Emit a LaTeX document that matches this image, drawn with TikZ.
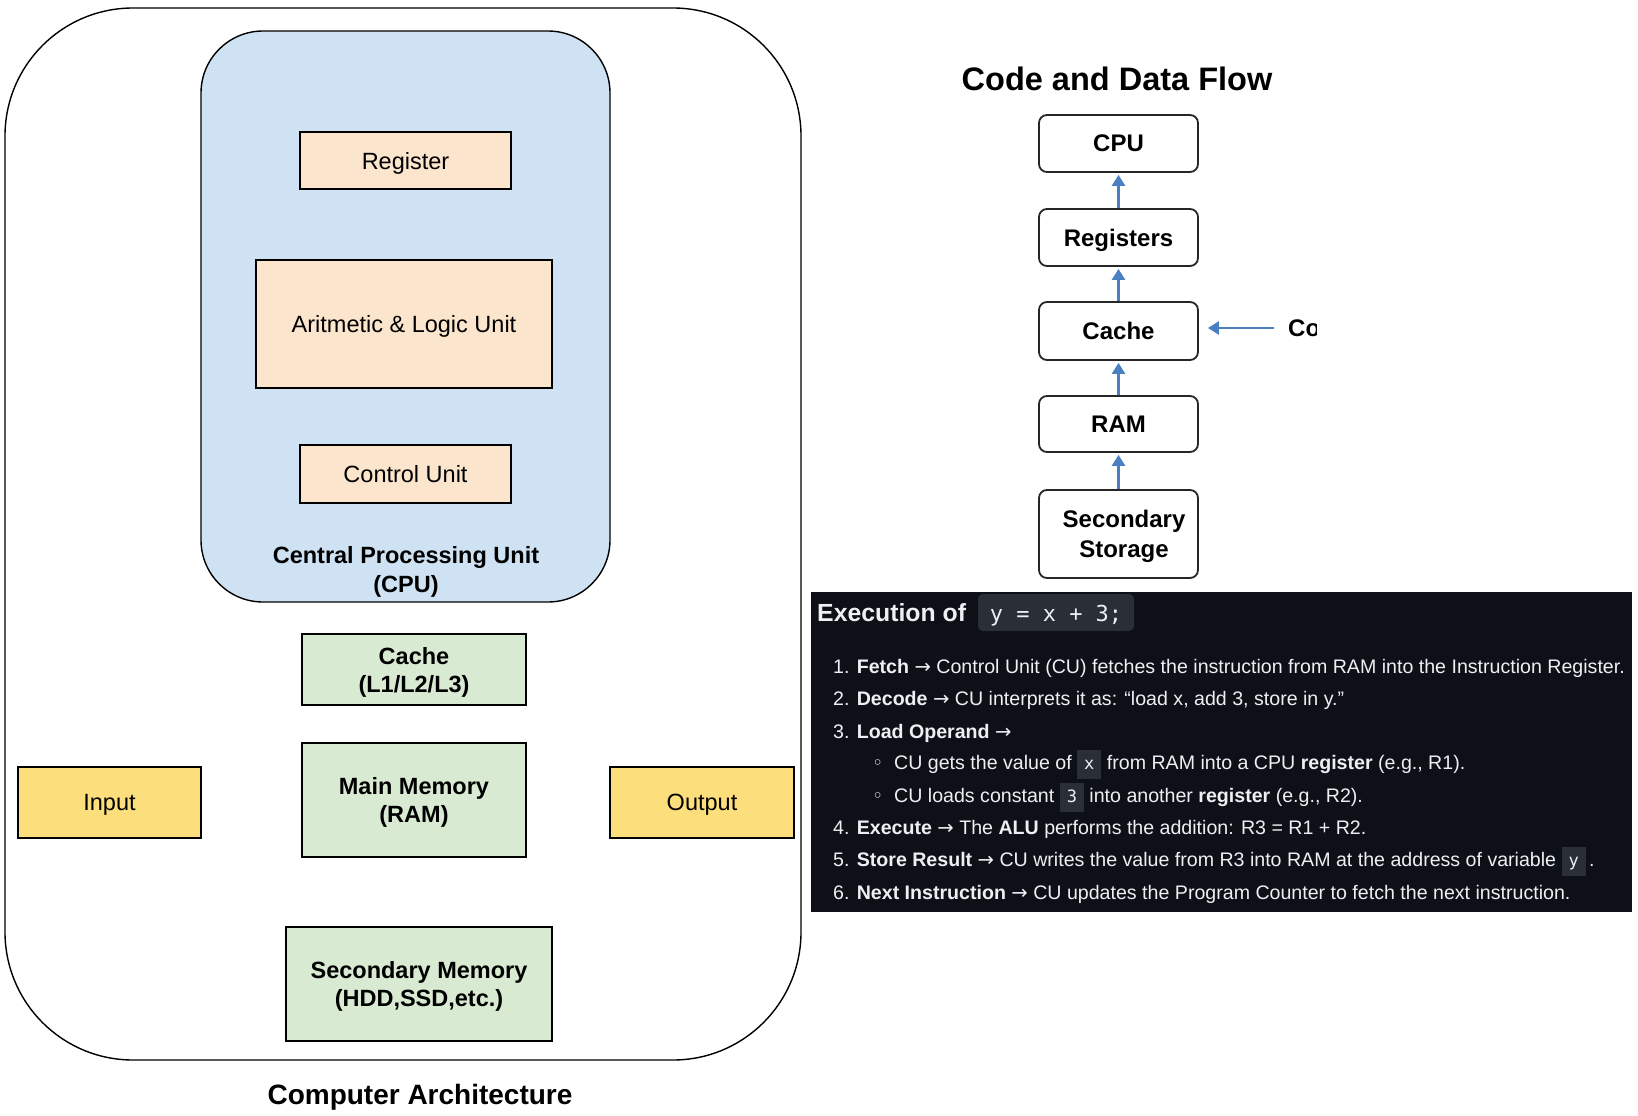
\documentclass[tikz,border=0pt]{standalone}
\usepackage{fontspec}
\setmainfont{Liberation Sans}
\setmonofont{DejaVu Sans Mono}
\newfontfamily\djv{DejaVu Sans}
\usetikzlibrary{arrows.meta}
\definecolor{cpublue}{RGB}{207,226,243}
\definecolor{orangeC}{RGB}{252,229,205}
\definecolor{greenC}{RGB}{217,234,211}
\definecolor{yellowC}{RGB}{253,222,125}
\definecolor{panelbg}{RGB}{13,17,23}
\definecolor{chipbg}{RGB}{42,46,54}
\definecolor{paneltxt}{RGB}{236,239,243}
\definecolor{flowblue}{RGB}{74,127,193}
\newcommand{\setfs}[2]{\fontsize{#1}{#2}\selectfont}
\newcommand{\ar}{{\djv →}}
\newcommand{\codechip}[1]{{\setlength{\fboxsep}{0pt}\colorbox{chipbg}{\hspace{7pt}\rule[-9.5pt]{0pt}{29pt}{\ttfamily\setfs{17}{17}\color{paneltxt}#1}\hspace{7pt}}}}
\begin{document}
\begin{tikzpicture}[x=1pt,y=-1pt,
  archbox/.style={draw=black, line width=1.4pt, inner sep=0pt, align=center, text depth=0pt},
  obox/.style={archbox, fill=orangeC, font=\setfs{23.5}{28}},
  gbox/.style={archbox, fill=greenC, font=\bfseries\setfs{23.5}{28}},
  ybox/.style={archbox, fill=yellowC, font=\setfs{23.5}{28}},
  flowbox/.style={draw=black!85, line width=1.8pt, rounded corners=8pt, minimum width=159pt, inner sep=0pt, font=\bfseries\setfs{24}{30}, align=center, text depth=0pt},
  flowarrow/.style={draw=flowblue, line width=2.6pt, -{Triangle[width=13pt,length=11pt]}},
  item/.style={anchor=base west, inner sep=0pt, text=paneltxt, font=\setfs{19.6}{19.6}},
  bullet/.style={anchor=base west, inner sep=0pt, text=paneltxt, font=\djv\setfs{19}{19}}
]
\useasboundingbox (0,0) rectangle (1638,1116);

% ---------------- Left: computer architecture ----------------
\draw[line width=1.4pt, rounded corners=128pt] (5,8) rectangle (801,1060);
\draw[line width=1.4pt, fill=cpublue, rounded corners=62pt] (201,31) rectangle (610,602);

\node[obox, minimum width=211pt, minimum height=57pt] (reg) at (405.5,160.5) {Register};
\node[obox, minimum width=296pt, minimum height=128pt] (alu) at (404,324) {Aritmetic \& Logic Unit};
\node[obox, minimum width=211pt, minimum height=58pt] (cu) at (405.5,474) {Control Unit};
\node[align=center, font=\bfseries\setfs{23.5}{29}] (cpulbl) at (406,572) {Central Processing Unit\\(CPU)};

\node[gbox, minimum width=224pt, minimum height=71pt] (cache) at (414,669.5) {Cache\\(L1/L2/L3)};
\node[gbox, minimum width=224pt, minimum height=114pt] (ram) at (414,800) {Main Memory\\(RAM)};
\node[ybox, minimum width=183pt, minimum height=71pt] (input) at (109.5,802.5) {Input};
\node[ybox, minimum width=184pt, minimum height=71pt] (output) at (702,802.5) {Output};
\node[gbox, minimum width=266pt, minimum height=114pt] (sec) at (419,984) {Secondary Memory\\(HDD,SSD,etc.)};

\node[font=\bfseries\setfs{28}{28}] (archtitle) at (420,1097) {Computer Architecture};

% ---------------- Right: code and data flow ----------------
\node[font=\bfseries\setfs{32.5}{32.5}] (flowtitle) at (1117,79) {Code and Data Flow};

\node[flowbox, minimum height=57pt] (fcpu) at (1118.5,143.5) {CPU};
\node[flowbox, minimum height=57pt] (freg) at (1118.5,237.5) {Registers};
\node[flowbox, minimum height=58pt] (fcache) at (1118.5,331) {Cache};
\node[flowbox, minimum height=56pt] (fram) at (1118.5,424) {RAM};
\node[flowbox, minimum height=88pt] (fsec) at (1118.5,534) {};
\node[font=\bfseries\setfs{24}{30}, align=center] (fseclbl) at (1124,536) {Secondary\\Storage};

\draw[flowarrow, shorten >=2pt] (fsec.north) -- (fram.south);
\draw[flowarrow, shorten >=2pt] (fram.north) -- (fcache.south);
\draw[flowarrow, shorten >=2pt] (fcache.north) -- (freg.south);
\draw[flowarrow, shorten >=2pt] (freg.north) -- (fcpu.south);

\begin{scope}
  \clip (1280,295) rectangle (1316,365);
  \node[anchor=west, inner sep=0pt, font=\bfseries\setfs{24}{24}] (co) at (1288,328) {Co};
\end{scope}
\draw[flowarrow, shorten <=14pt, shorten >=9pt] (co.west) -- (fcache.east |- co.west);

% ---------------- Execution panel ----------------
\node[fill=panelbg, minimum width=821pt, minimum height=320pt, inner sep=0pt, anchor=north west] (panel) at (811,592) {};
\node[anchor=base west, inner sep=0pt, text=paneltxt, font=\bfseries\setfs{24.8}{24.8}] (exh) at (817,621) {Execution of};
\node[fill=chipbg, rounded corners=5pt, minimum width=156pt, minimum height=37pt, inner sep=0pt] (codechipbox) at (1056,612.5) {};
\node[anchor=base, inner sep=0pt, text=paneltxt, font=\ttfamily\setfs{22}{22}] (codetxt) at (1056,621) {y = x + 3;};

\node[item] (i1) at (833,673.5) {1. \textbf{Fetch} \ar{} Control Unit (CU) fetches the instruction from RAM into the Instruction Register.};
\node[item] (i2) at (833,705) {2. \textbf{Decode} \ar{} CU interprets it as: “load x, add 3, store in y.”};
\node[item] (i3) at (833,738) {3. \textbf{Load Operand} \ar};
\node[bullet] (bul1) at (872,769) {◦};
\node[item] (b1) at (894,769.5) {CU gets the value of \codechip{x} from RAM into a CPU \textbf{register} (e.g., R1).};
\node[bullet] (bul2) at (872,802) {◦};
\node[item] (b2) at (894,802.5) {CU loads constant \codechip{3} into another \textbf{register} (e.g., R2).};
\node[item] (i4) at (833,834.5) {4. \textbf{Execute} \ar{} The \textbf{ALU} performs the addition: R3 = R1 + R2.};
\node[item] (i5) at (833,866.5) {5. \textbf{Store Result} \ar{} CU writes the value from R3 into RAM at the address of variable \codechip{y}\,.};
\node[item] (i6) at (833,899.5) {6. \textbf{Next Instruction} \ar{} CU updates the Program Counter to fetch the next instruction.};
\end{tikzpicture}
\end{document}
